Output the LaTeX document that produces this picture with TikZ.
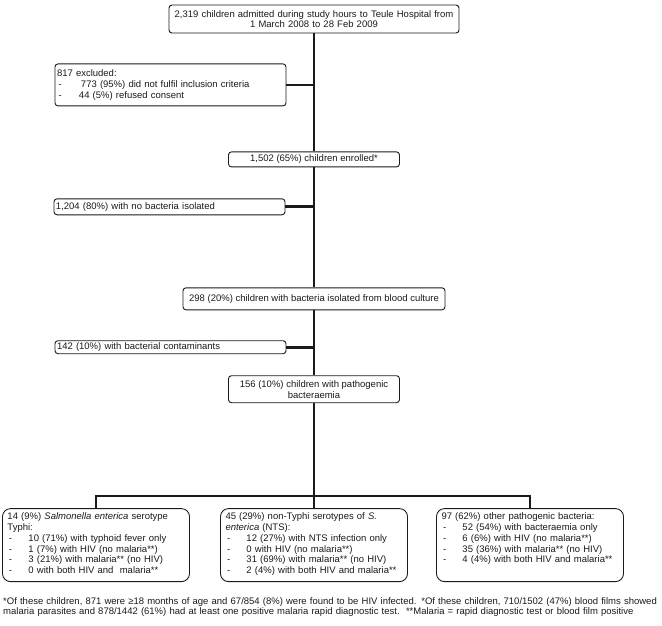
\documentclass[tikz,border=0pt]{standalone}
\usepackage{fontspec}
\setmainfont{Liberation Sans}
\usepackage{xcolor}
\usepackage{tikz}
\usetikzlibrary{positioning, calc}
\definecolor{dark}{HTML}{1a1a1a}
\tikzstyle{block}    = [rectangle, rounded corners=3pt, draw=dark, line width=0.9pt,
                        inner xsep=2pt, inner ysep=1pt, align=center, text=dark]
\tikzstyle{sidebox}  = [rectangle, rounded corners=3pt, draw=dark, line width=0.9pt,
                        inner xsep=2pt, inner ysep=1pt, align=left, text=dark]
\tikzstyle{outbox}   = [rectangle, rounded corners=8pt, draw=dark, line width=0.9pt,
                        minimum width=187pt, text width=177pt, inner xsep=5pt,
                        inner ysep=3pt, text height=8pt, text depth=59pt,
                        align=left, text=dark]
\tikzstyle{link}     = [line width=2pt, color=dark]
\tikzstyle{sidelink} = [line width=2.8pt, color=dark]
\newcommand{\dashrow}[2][21pt]{\makebox[#1][l]{\hspace{1.5pt}-}#2}

\begin{document}
\begin{tikzpicture}[x=1pt, y=1pt, node distance=30pt,
    font=\fontsize{9.5}{10.8}\selectfont]

  \useasboundingbox (0,0) rectangle (662,-625);

  %% main column
  \node[block, minimum width=290pt, minimum height=28pt, text width=286pt] (top)
        at (314,-19)
        {2,319 children admitted during study hours to Teule Hospital from\\
         1 March 2008 to 28 Feb 2009};

  \node[block, below=118pt of top, minimum width=171pt, minimum height=15pt] (enrol)
        {1,502 (65\%) children enrolled*};

  \node[block, below=120pt of enrol, minimum width=262pt, minimum height=22pt] (blood)
        {298 (20\%) children with bacteria isolated from blood culture};

  \node[block, below=65pt of blood, minimum width=171pt, minimum height=27pt] (patho)
        {156 (10\%) children with pathogenic\\bacteraemia};

  %% excluded at each step
  \node[sidebox, below=30pt of top, xshift=-143.5pt, minimum height=42pt,
        text width=227pt] (excl)
        {817 excluded:\\
         \dashrow[24pt]{773 (95\%) did not fulfil inclusion criteria}\\
         \dashrow[22pt]{44 (5\%) refused consent}};

  \node[sidebox, below=31pt of enrol, xshift=-144.5pt, minimum height=16pt,
        text width=227pt] (nobact)
        {1,204 (80\%) with no bacteria isolated};

  \node[sidebox, below=30pt of blood, xshift=-143.5pt, minimum height=13pt,
        text width=227pt] (contam)
        {142 (10\%) with bacterial contaminants};

  %% organism groups
  \node[outbox, below=105pt of patho, xshift=-218pt] (typhi)
        {14 (9\%) \textit{Salmonella enterica} serotype\\
         Typhi:\\
         \dashrow{10 (71\%) with typhoid fever only}\\
         \dashrow{1 (7\%) with HIV (no malaria**)}\\
         \dashrow{3 (21\%) with malaria** (no HIV)}\\
         \dashrow{0 with both HIV and\ \ malaria**}};

  \node[outbox, below=105pt of patho] (nts)
        {45 (29\%) non-Typhi serotypes of \textit{S.}\\
         \textit{enterica} (NTS):\\
         \dashrow{12 (27\%) with NTS infection only}\\
         \dashrow{0 with HIV (no malaria**)}\\
         \dashrow{31 (69\%) with malaria** (no HIV)}\\
         \dashrow{2 (4\%) with both HIV and malaria**}};

  \node[outbox, below=105pt of patho, xshift=216pt] (other)
        {97 (62\%) other pathogenic bacteria:\\
         \dashrow{52 (54\%) with bacteraemia only}\\
         \dashrow{6 (6\%) with HIV (no malaria**)}\\
         \dashrow{35 (36\%) with malaria** (no HIV)}\\
         \dashrow{4 (4\%) with both HIV and malaria**}};

  %% footnote
  \node[anchor=north west, text width=662pt, inner sep=0pt, align=left,
        text=dark] (note) at (3,-597)
        {*Of these children, 871 were ≥18 months of age and 67/854 (8\%) were
         found to be HIV infected. *Of these children, 710/1502 (47\%) blood films showed\\
         malaria parasites and 878/1442 (61\%) had at least one positive malaria
         rapid diagnostic test.\ \ **Malaria = rapid diagnostic test or blood film positive};

  %% Lines
  \draw[link] (top) -- (enrol);
  \draw[link] (enrol) -- (blood);
  \draw[link] (blood) -- (patho);
  \draw[sidelink] (excl.east) -- (excl.east -| top.south);
  \draw[sidelink] (nobact.east) -- (nobact.east -| enrol.south);
  \draw[sidelink] (contam.east) -- (contam.east -| blood.south);
  \coordinate[below=93pt of patho.south] (split);
  \draw[link] (patho.south) -- (split);
  \draw[link] (typhi.north) |- (split) -| (other.north);
  \draw[link] (split) -- (nts.north);

\end{tikzpicture}
\end{document}
